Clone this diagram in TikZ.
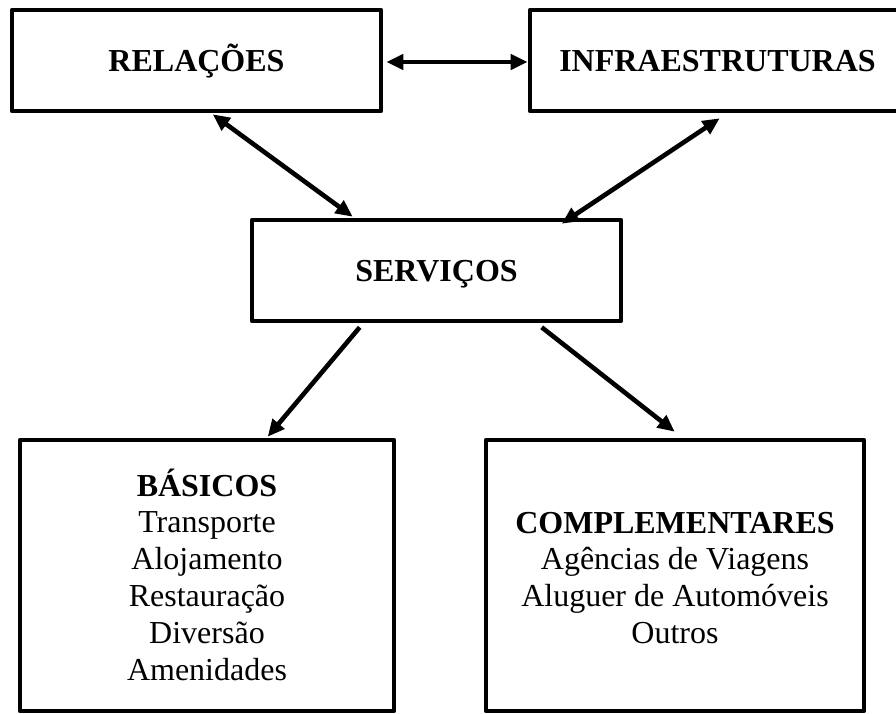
\documentclass[tikz,border=0pt]{standalone}
\usepackage{fontspec}
\setmainfont{Liberation Serif}
\usetikzlibrary{arrows.meta}
\begin{document}
\begin{tikzpicture}[x=1pt,y=-1pt,
  box/.style={draw, line width=4.6pt, line join=round, rectangle, inner sep=0pt},
  heading/.style={font=\fontsize{32}{36.8}\selectfont\bfseries, text height=21pt, text depth=0pt},
  listtext/.style={font=\fontsize{32}{36.8}\selectfont, inner sep=0pt, anchor=base},
  tip/.tip={Triangle[length=17pt,width=15pt]},
  both/.style={line width=4.6pt, tip-tip},
  one/.style={line width=4.6pt, -tip},
]
\useasboundingbox (0,0) rectangle (896,713);

% upper row
\node[box, heading, minimum width=369pt, minimum height=101pt] (rel) at (196.5,60.5) {RELAÇÕES};
\node[box, heading, minimum width=375pt, minimum height=101pt] (infra) at (717.5,60.5) {INFRAESTRUTURAS};

% centre
\node[box, heading, minimum width=369pt, minimum height=101pt] (serv) at (436.5,270.5) {SERVIÇOS};

% lower row
\node[box, minimum width=374pt, minimum height=271pt] (bas) at (207,575.5) {};
\node[box, minimum width=378pt, minimum height=271pt] (comp) at (675,575.5) {};

\node[listtext] (bastext) at (207,496) {\parbox[t]{360pt}{\centering
  \textbf{BÁSICOS}\\Transporte\\Alojamento\\Restauração\\Diversão\\Amenidades}};
\node[listtext] (comptext) at (675,533) {\parbox[t]{370pt}{\centering
  \textbf{COMPLEMENTARES}\\Agências de Viagens\\Aluguer de Automóveis\\Outros}};

% connectors (shifts are in page units: positive yshift points up)
\draw[both] ([xshift=3pt,yshift=-1.5pt]rel.east) -- ([yshift=-1.5pt]infra.west);
\draw[both] ([xshift=203pt,yshift=-1pt]rel.south west) -- ([xshift=103pt,yshift=1pt]serv.north west);
\draw[both] ([xshift=192pt,yshift=-5pt]infra.south west) -- ([xshift=312pt,yshift=-6pt]serv.north west);
\draw[one] ([xshift=110pt,yshift=-4pt]serv.south west) -- ([xshift=250pt,yshift=1pt]bas.north west);
\draw[one] ([xshift=292pt,yshift=-4pt]serv.south west) -- ([xshift=191pt,yshift=6pt]comp.north west);
\end{tikzpicture}
\end{document}
